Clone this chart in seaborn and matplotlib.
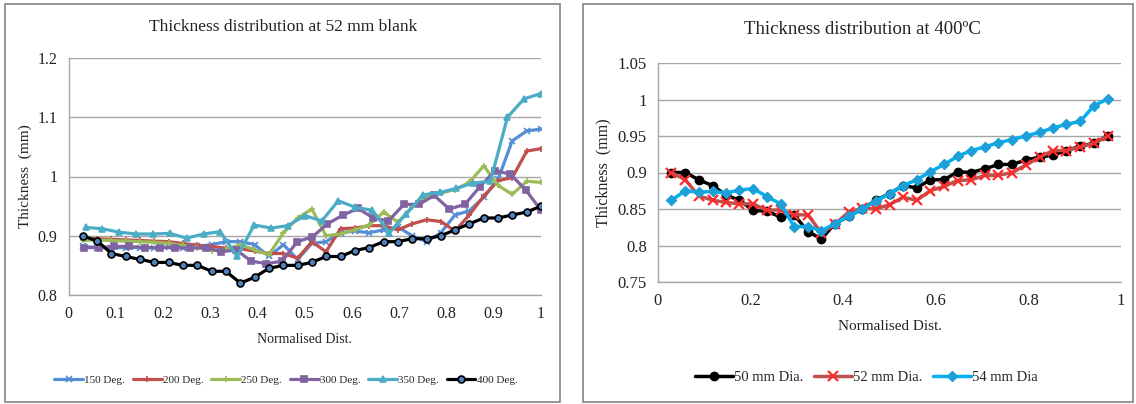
import numpy as np
import matplotlib
matplotlib.use("Agg")
import matplotlib.pyplot as plt
import seaborn as sns
from matplotlib.patches import Rectangle
from matplotlib.ticker import FuncFormatter

# ---------------------------------------------------------------
# Data
# ---------------------------------------------------------------

# Left chart: thickness at 52 mm blank, different temperatures
x33 = [0.030, 0.061, 0.091, 0.121, 0.152, 0.182, 0.212, 0.242, 0.273, 0.303, 0.333,
       0.364, 0.394, 0.424, 0.455, 0.485, 0.515, 0.545, 0.576, 0.606, 0.636, 0.667,
       0.697, 0.727, 0.758, 0.788, 0.818, 0.848, 0.879, 0.909, 0.939, 0.970, 1.000]
x31 = [0.032, 0.065, 0.097, 0.129, 0.161, 0.194, 0.226, 0.258, 0.290, 0.323, 0.355,
       0.387, 0.419, 0.452, 0.484, 0.516, 0.548, 0.581, 0.613, 0.645, 0.677, 0.710,
       0.742, 0.774, 0.806, 0.839, 0.871, 0.903, 0.935, 0.968, 1.000]
x28 = [0.036, 0.071, 0.107, 0.143, 0.179, 0.214, 0.250, 0.286, 0.321, 0.357, 0.393,
       0.429, 0.464, 0.500, 0.536, 0.571, 0.607, 0.643, 0.679, 0.714, 0.750, 0.786,
       0.821, 0.857, 0.893, 0.929, 0.964, 1.000]

deg150 = [0.882, 0.880, 0.880, 0.880, 0.880, 0.880, 0.881, 0.880, 0.882, 0.885, 0.890,
          0.890, 0.885, 0.865, 0.885, 0.860, 0.887, 0.890, 0.905, 0.908, 0.905, 0.910,
          0.915, 0.900, 0.890, 0.905, 0.935, 0.942, 0.965, 0.995, 1.060, 1.077, 1.080]
deg200 = [0.895, 0.895, 0.894, 0.893, 0.892, 0.891, 0.890, 0.887, 0.884, 0.882, 0.879,
          0.878, 0.874, 0.870, 0.870, 0.862, 0.890, 0.873, 0.912, 0.913, 0.917, 0.917,
          0.910, 0.920, 0.927, 0.924, 0.908, 0.935, 0.967, 0.993, 0.998, 1.043, 1.047]
deg250 = [0.892, 0.893, 0.892, 0.891, 0.890, 0.889, 0.887, 0.884, 0.880, 0.875, 0.877,
          0.885, 0.876, 0.868, 0.905, 0.930, 0.945, 0.900, 0.903, 0.910, 0.918, 0.940,
          0.923, 0.948, 0.965, 0.972, 0.978, 0.990, 1.018, 0.985, 0.970, 0.992, 0.990]
deg300 = [0.880, 0.880, 0.882, 0.882, 0.880, 0.880, 0.880, 0.879, 0.880, 0.873, 0.876,
          0.857, 0.853, 0.857, 0.890, 0.898, 0.920, 0.935, 0.946, 0.930, 0.925, 0.953,
          0.953, 0.968, 0.945, 0.953, 0.983, 1.010, 1.004, 0.977, 0.943]
deg350 = [0.914, 0.912, 0.906, 0.903, 0.903, 0.904, 0.896, 0.903, 0.907, 0.865, 0.918,
          0.913, 0.917, 0.934, 0.925, 0.959, 0.948, 0.943, 0.905, 0.936, 0.969, 0.973,
          0.980, 0.989, 0.992, 1.100, 1.131, 1.140]
deg400 = [0.900, 0.891, 0.870, 0.865, 0.860, 0.855, 0.855, 0.850, 0.850, 0.840, 0.840,
          0.820, 0.830, 0.845, 0.850, 0.850, 0.855, 0.865, 0.865, 0.875, 0.880, 0.890,
          0.890, 0.895, 0.895, 0.900, 0.910, 0.920, 0.930, 0.930, 0.935, 0.940, 0.950]

# Right chart: thickness at 400 C, different blank diameters
x34 = [0.029, 0.059, 0.088, 0.118, 0.147, 0.176, 0.206, 0.235, 0.265, 0.294, 0.324,
       0.353, 0.382, 0.412, 0.441, 0.471, 0.500, 0.529, 0.559, 0.588, 0.618, 0.647,
       0.676, 0.706, 0.735, 0.765, 0.794, 0.824, 0.853, 0.882, 0.912, 0.941, 0.971]
dia50 = [0.900, 0.900, 0.890, 0.882, 0.869, 0.862, 0.848, 0.847, 0.839, 0.842, 0.819,
         0.809, 0.830, 0.840, 0.850, 0.862, 0.871, 0.882, 0.879, 0.890, 0.890, 0.901,
         0.900, 0.905, 0.911, 0.911, 0.917, 0.921, 0.924, 0.930, 0.936, 0.940, 0.950]
dia52 = [0.900, 0.890, 0.868, 0.862, 0.859, 0.857, 0.857, 0.848, 0.849, 0.842, 0.842,
         0.817, 0.829, 0.846, 0.851, 0.850, 0.856, 0.866, 0.862, 0.875, 0.881, 0.889,
         0.890, 0.896, 0.896, 0.900, 0.910, 0.921, 0.930, 0.930, 0.935, 0.940, 0.950]
dia54 = [0.862, 0.875, 0.873, 0.874, 0.872, 0.876, 0.878, 0.867, 0.857, 0.826, 0.826,
         0.820, 0.830, 0.840, 0.850, 0.861, 0.871, 0.882, 0.890, 0.901, 0.911, 0.922,
         0.930, 0.935, 0.941, 0.945, 0.950, 0.955, 0.961, 0.966, 0.970, 0.991, 1.001]

left_ticks_x = [0, 0.1, 0.2, 0.3, 0.4, 0.5, 0.6, 0.7, 0.8, 0.9, 1]
left_ticks_y = [0.8, 0.9, 1.0, 1.1, 1.2]
right_ticks_x = [0, 0.2, 0.4, 0.6, 0.8, 1]
right_ticks_y = [0.75, 0.8, 0.85, 0.9, 0.95, 1.0, 1.05]

# ---------------------------------------------------------------
# Style
# ---------------------------------------------------------------
sns.set_theme(style="white")
plt.rcParams['font.family'] = ['Liberation Serif', 'DejaVu Serif']

GRID = '#a6a6a6'
TXT = '#222222'
fig = plt.figure(figsize=(11.36, 4.04), dpi=100)

# panel frames like the Excel chart areas
fig.patches.append(Rectangle((5 / 1136, 2 / 404), 555 / 1136, 398 / 404, transform=fig.transFigure,
                             fill=False, edgecolor='#8c8c8c', lw=1.3))
fig.patches.append(Rectangle((583 / 1136, 2 / 404), 550 / 1136, 398 / 404, transform=fig.transFigure,
                             fill=False, edgecolor='#8c8c8c', lw=1.3))

ax1 = fig.add_axes([68.5 / 1136, 1 - 295 / 404, 472.5 / 1136, 237 / 404])
ax2 = fig.add_axes([658 / 1136, 1 - 282 / 404, 463 / 1136, 219 / 404])

fmt = FuncFormatter(lambda v, p: '%g' % round(v, 3))


def style_axis(ax, xt, yt, fs):
    ax.set_xlim(0, 1)
    ax.set_ylim(yt[0], yt[-1])
    ax.set_xticks(xt)
    ax.set_yticks(yt)
    ax.xaxis.set_major_formatter(fmt)
    ax.yaxis.set_major_formatter(fmt)
    ax.yaxis.grid(True, color=GRID, lw=1)
    ax.xaxis.grid(False)
    ax.set_axisbelow(True)
    for s in ['top', 'right']:
        ax.spines[s].set_visible(False)
    for s in ['left', 'bottom']:
        ax.spines[s].set_color(GRID)
        ax.spines[s].set_linewidth(1)
    ax.tick_params(length=0, labelsize=fs, colors=TXT, pad=8)
    ax.set_xlabel('Normalised Dist.', fontsize=10, color=TXT, labelpad=8)
    ax.set_ylabel('Thickness  (mm)', fontsize=11, color=TXT)


# Left chart
left_series = [
    (x33, deg150, '150 Deg.', '#558ed5', 'x', 4, None),
    (x33, deg200, '200 Deg.', '#c0504d', '+', 5, None),
    (x33, deg250, '250 Deg.', '#9bbb59', '+', 5, None),
    (x31, deg300, '300 Deg.', '#8064a2', 's', 5, None),
    (x28, deg350, '350 Deg.', '#4bacc6', '^', 5, None),
    (x33, deg400, '400 Deg.', '#000000', 'o', 5, '#4f81bd'),
]
for xs, ys, lab, col, mk, ms, mfc in left_series:
    sns.lineplot(x=xs, y=ys, ax=ax1, color=col, lw=2.3, marker=mk, markersize=ms,
                 markerfacecolor=mfc if mfc else col, markeredgecolor=col,
                 markeredgewidth=1.2, label=lab, sort=False)

style_axis(ax1, left_ticks_x, left_ticks_y, 11.5)
ax1.yaxis.set_label_coords(-0.078, 0.5)
fig.text(283 / 1136, 1 - 27 / 404, 'Thickness distribution at 52 mm blank',
         ha='center', va='center', fontsize=12.5, color=TXT)
ax1.legend(loc='upper center', bbox_to_anchor=(0.46, -0.295), ncol=6, frameon=False,
           fontsize=8, handlelength=2.6, handletextpad=0.1, columnspacing=0.7)

# Right chart
right_series = [
    (dia50, '50 mm Dia.', '#000000', 'o', 6, '#000000', 1.0),
    (dia52, '52 mm Dia.', '#c0504d', 'x', 7, '#ff2a2a', 1.6),
    (dia54, '54 mm Dia', '#00b0f0', 'D', 5, '#1e9fd8', 1.0),
]
for ys, lab, col, mk, ms, mc, mew in right_series:
    sns.lineplot(x=x34, y=ys, ax=ax2, color=col, lw=2.5, marker=mk, markersize=ms,
                 markerfacecolor=mc, markeredgecolor=mc, markeredgewidth=mew,
                 label=lab, sort=False)

style_axis(ax2, right_ticks_x, right_ticks_y, 12)
ax2.xaxis.label.set_fontsize(11)
ax2.yaxis.label.set_fontsize(11.5)
ax2.yaxis.set_label_coords(-0.1, 0.5)
fig.text(862 / 1136, 1 - 30 / 404, 'Thickness distribution at 400\u00baC',
         ha='center', va='center', fontsize=13.5, color=TXT)
ax2.legend(loc='upper center', bbox_to_anchor=(0.45, -0.345), ncol=3, frameon=False,
           fontsize=10.5, handlelength=2.6, handletextpad=0.1, columnspacing=0.7)

fig.savefig('out.png', dpi=100, facecolor='white')
